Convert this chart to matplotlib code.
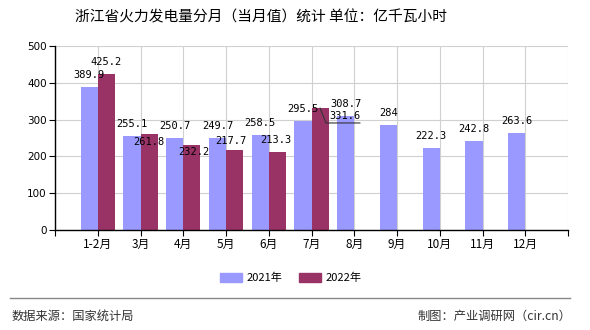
# 浙江省火力发电量分月（当月值）统计
import numpy as np
import matplotlib
matplotlib.use("Agg")
import matplotlib.pyplot as plt
from matplotlib.patches import Patch
from matplotlib.transforms import offset_copy

plt.rcParams['font.family'] = ['Noto Sans CJK SC', 'DejaVu Sans']

months = ["1-2月", "3月", "4月", "5月", "6月", "7月", "8月", "9月", "10月", "11月", "12月"]
v2021 = [389.9, 255.1, 250.7, 249.7, 258.5, 295.5, 308.7, 284, 222.3, 242.8, 263.6]
v2022 = [425.2, 261.8, 232.2, 217.7, 213.3, 331.6]
yticks = [0, 100, 200, 300, 400, 500]

# label offsets in pixels (dx, dy) for the 2022 values, as placed in the original
off2022 = [(0, 12), (0, -8), (2, -7), (-4, 9), (-1, 12), (25, -8)]

c2021 = "#9999FF"
c2022 = "#993366"

fig = plt.figure(figsize=(5.9, 3.3), dpi=100)
ax = fig.add_axes([55 / 590, 1 - 230 / 330, 513 / 590, 184 / 330])

n = len(months)
x = np.arange(1, n + 1)
w = 0.4
ax.bar(x[:len(v2021)] - w / 2, v2021, w, color=c2021, zorder=3)
ax.bar(x[:len(v2022)] + w / 2, v2022, w, color=c2022, zorder=3)

ax.set_xlim(0, n + 1)
ax.set_ylim(0, 500)
ax.set_yticks(yticks)
ax.set_yticklabels([str(t) for t in yticks], fontsize=7.5, family="DejaVu Sans")
ax.set_xticks(np.arange(0, n + 2))
ax.set_xticklabels([""] + months + [""], fontsize=8.5)
ax.grid(True, color="#d0d0d0", lw=0.8, zorder=0)
ax.tick_params(axis="both", length=4, width=0.8, color="black", pad=2)
for s in ["top", "right"]:
    ax.spines[s].set_visible(False)
for s in ["left", "bottom"]:
    ax.spines[s].set_linewidth(1.0)
    ax.spines[s].set_zorder(4)

lab = dict(fontsize=7.5, family="DejaVu Sans Mono", ha="center", va="center",
           textcoords="offset pixels", zorder=5)
for xi, v in zip(x - w / 2, v2021):
    ax.annotate(f"{v:g}", (xi, v), xytext=(0, 12), **lab)
for xi, v, (dx, dy) in zip(x + w / 2, v2022, off2022):
    ax.annotate(f"{v:g}", (xi, v), xytext=(dx, dy), **lab)

# leader line for the 7月 2022 label
xl = x[5] + w / 2
vl = v2022[5]
ax.annotate("", (xl, vl), xytext=(6, -15), textcoords="offset pixels",
            arrowprops=dict(arrowstyle="-", color="#333333", lw=0.8, shrinkA=0, shrinkB=0))
ax.annotate("", (xl, vl), xycoords=offset_copy(ax.transData, fig=fig, x=6, y=-15, units="dots"),
            xytext=(34, 0), textcoords="offset pixels",
            arrowprops=dict(arrowstyle="-", color="#333333", lw=0.8, shrinkA=0, shrinkB=0))

fig.text(261 / 590, 1 - 17 / 330, "浙江省火力发电量分月（当月值）统计 单位：亿千瓦小时",
         ha="center", va="center", fontsize=10.6)

handles = [Patch(color=c2021, label="2021年"), Patch(color=c2022, label="2022年")]
fig.legend(handles=handles, loc="center", bbox_to_anchor=(291 / 590, 1 - 278 / 330),
           ncol=2, frameon=False, fontsize=8, handlelength=2.0, handleheight=0.9,
           columnspacing=1.5, handletextpad=0.4)

fig.add_artist(plt.Line2D([10 / 590, 570 / 590], [1 - 298 / 330] * 2, color="#888888", lw=1.0))
fig.text(12 / 590, 1 - 316 / 330, "数据来源：国家统计局", ha="left", va="center",
         fontsize=8.8, color="#333333")
fig.text(571 / 590, 1 - 316 / 330, "制图：产业调研网（cir.cn）", ha="right", va="center",
         fontsize=8.8, color="#333333")

fig.savefig("out.png", dpi=100)
